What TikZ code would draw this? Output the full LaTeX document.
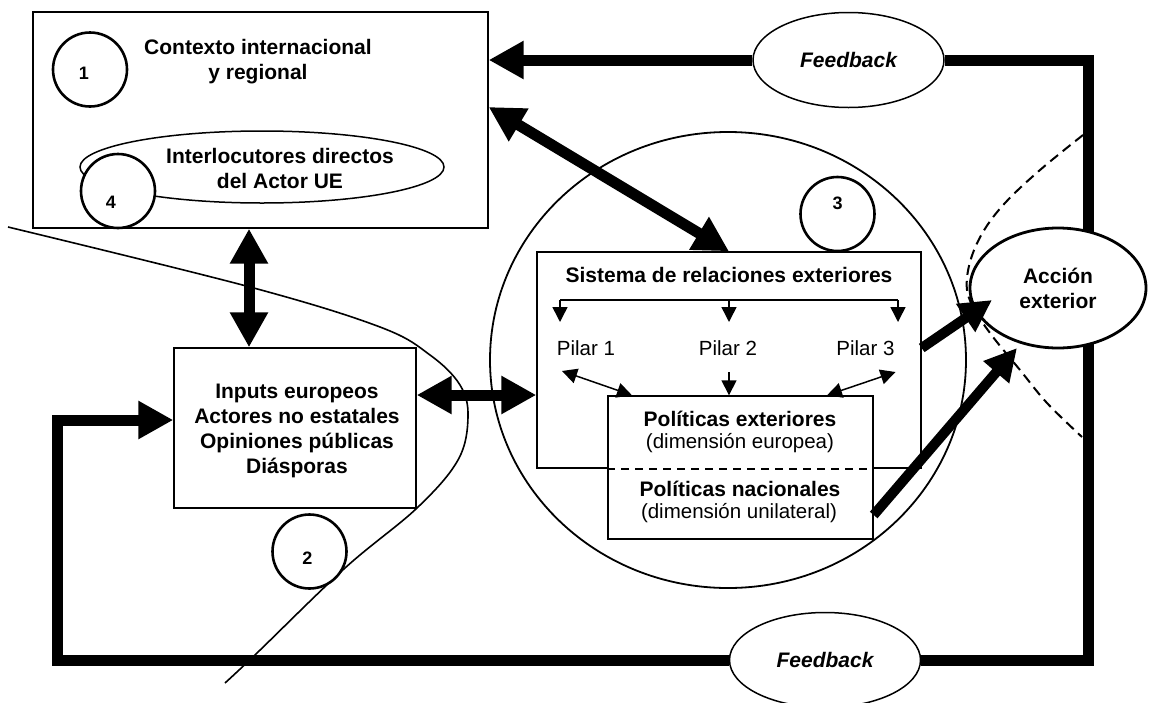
\documentclass[tikz,border=0pt]{standalone}
\usepackage{fontspec}
\setmainfont{Liberation Sans}
\usetikzlibrary{arrows.meta,shapes.geometric}

\begin{document}
\begin{tikzpicture}[x=1pt,y=-1pt,
    box/.style={draw, rectangle, line width=1.4pt, inner sep=0pt},
    numcircle/.style={draw, circle, line width=2.6pt, fill=white, minimum size=74pt, inner sep=0pt},
    numlabel/.style={font=\fontsize{18}{20}\selectfont\bfseries},
    boldtext/.style={font=\fontsize{21}{25}\selectfont\bfseries, align=center},
    plaintext/.style={font=\fontsize{20.5}{25}\selectfont, align=center},
    fbellipse/.style={draw, ellipse, line width=1.5pt, fill=white, minimum width=191pt,
      minimum height=95pt, inner sep=0pt, font=\fontsize{21}{25}\selectfont\bfseries\itshape},
    heavy/.style={line width=11pt},
    heavyarrow/.style={line width=11pt, -{Triangle[length=35pt,width=36pt]}},
    heavydouble/.style={line width=11pt, {Triangle[length=35pt,width=36pt]}-{Triangle[length=35pt,width=36pt]}},
    hitarrow/.style={line width=10pt, -{Triangle[length=32pt,width=32pt]}},
    thinarrow/.style={line width=1.5pt, -{Triangle[length=15pt,width=15pt]}},
    thindouble/.style={line width=1.5pt, {Triangle[length=15pt,width=15pt]}-{Triangle[length=15pt,width=15pt]}}
  ]

    % Frame of the picture
    \useasboundingbox (0,0) rectangle (1149,702);

    % Dividing curve on the left
    \draw[line width=1.6pt] plot[smooth, tension=0.6] coordinates
      {(8,227) (250,287) (380,327) (430,355) (460,385) (468,417)
       (458,460) (417,508) (345,568) (257,653) (225,683)};

    % Big circle round the system
    \node[draw, ellipse, line width=1.8pt, minimum width=476pt, minimum height=456pt,
      inner sep=0pt] (ring) at (728,360) {};

    % International context
    \node[box, minimum width=455pt, minimum height=216pt] (contexto) at (260.5,120) {};
    \node[boldtext] (contextotext) at (258,62) {Contexto internacional\\y regional};
    \node[draw, ellipse, line width=1.5pt, minimum width=364pt, minimum height=72pt,
      inner sep=0pt] (interloc) at (262,167) {};
    \node[boldtext] (interloctext) at (280,168) {Interlocutores directos\\del Actor UE};
    \node[numcircle] (c1) at (90,69.5) {};
    \node[numlabel] (n1) at ([shift={(-6,4)}]c1.center) {1};
    \node[numcircle] (c4) at (118,191) {};
    \node[numlabel] (n4) at ([shift={(-7,11)}]c4.center) {4};

    % European inputs
    \node[box, minimum width=242pt, minimum height=160pt] (inputs) at (295,428) {};
    \node[boldtext] (inputstext) at (297,431)
      {Inputs europeos\\Actores no estatales\\Opiniones públicas\\Diásporas};
    \node[numcircle] (c2) at (309.5,551.5) {};
    \node[numlabel] (n2) at ([shift={(-2,7)}]c2.center) {2};

    % System of external relations
    \node[box, minimum width=384pt, minimum height=216pt] (sistema) at (729,360) {};
    \node[boldtext] (sistematext) at (729,275) {Sistema de relaciones exteriores};
    \node[numcircle] (c3) at (837.5,214) {};
    \node[numlabel] (n3) at ([shift={(0,-11)}]c3.center) {3};

    % Pillars
    \node[plaintext] (pilar1) at (586,348) {Pilar 1};
    \node[plaintext] (pilar2) at (728,348) {Pilar 2};
    \node[plaintext] (pilar3) at (865.5,348) {Pilar 3};

    \draw[line width=1.5pt] (560,300) -- (898,300);
    \foreach \x in {560,729,898}
      \draw[thinarrow] (\x,300) -- (\x,322);

    % Policies box
    \node[box, fill=white, minimum width=265pt, minimum height=143pt] (politicas) at (740.5,467.5) {};
    \draw[line width=1.7pt, dash pattern=on 8pt off 6pt]
      (politicas.west |- sistema.south) -- (politicas.east |- sistema.south);
    \node[boldtext] (polext) at (740,419) {Políticas exteriores};
    \node[plaintext] (polextsub) at (740,443) {(dimensión europea)};
    \node[boldtext] (polnac) at (740,489) {Políticas nacionales};
    \node[plaintext] (polnacsub) at (739,513) {(dimensión unilateral)};

    % Pillars to policies
    \draw[thindouble] ([shift={(-24,23)}]pilar1.center) -- (politicas.north -| 632,0);
    \draw[thinarrow] ([shift={(1,24)}]pilar2.center) -- (politicas.north -| 729,0);
    \draw[thindouble] ([shift={(30,24)}]pilar3.center) -- (politicas.north -| 827,0);

    % Heavy double arrows
    \draw[heavydouble] (contexto.south -| 249,0) -- (inputs.north -| 249,0);
    \draw[heavydouble] (inputs.east |- 0,395) -- (sistema.west |- 0,395);
    \draw[heavydouble] (contexto.east |- 0,107) -- (sistema.north);

    % Feedback loop
    \node[fbellipse] (fbtop) at (848.5,60) {Feedback};
    \node[fbellipse] (fbbot) at (825,660) {Feedback};
    \coordinate (cornerTR) at (1088.5,60);
    \coordinate (cornerBR) at (1088.5,660);
    \coordinate (cornerBL) at (57.5,660);
    \coordinate (cornerTL) at (57.5,420);
    \draw[heavy] (fbtop.east) -- (cornerTR) -- (cornerBR) -- (fbbot.east);
    \draw[heavyarrow] (fbtop.west) -- (contexto.east |- fbtop.west);
    \draw[heavyarrow] (fbbot.west) -- (cornerBL) -- (cornerTL) -- (inputs.west |- cornerTL);

    % Dashed boundary near the action
    \draw[line width=2pt, dash pattern=on 10pt off 6pt] plot[smooth, tension=0.6] coordinates
      {(1083,135) (1040,170) (1005,203) (983,232) (970,262) (967,290)
       (976,312) (993,337) (1020,370) (1047,403) (1082,437)};

    % External action
    \node[draw, ellipse, line width=2.8pt, fill=white, minimum width=176pt, minimum height=120pt,
      inner sep=0pt, boldtext] (accion) at (1058,288) {Acción\\exterior};
    \coordinate (hitA) at (992,300);
    \coordinate (hitB) at (1017,348);
    \draw[hitarrow] (sistema.east |- pilar3) -- (hitA);
    \draw[hitarrow] (politicas.east |- 0,515) -- (hitB);

  \end{tikzpicture}
\end{document}
